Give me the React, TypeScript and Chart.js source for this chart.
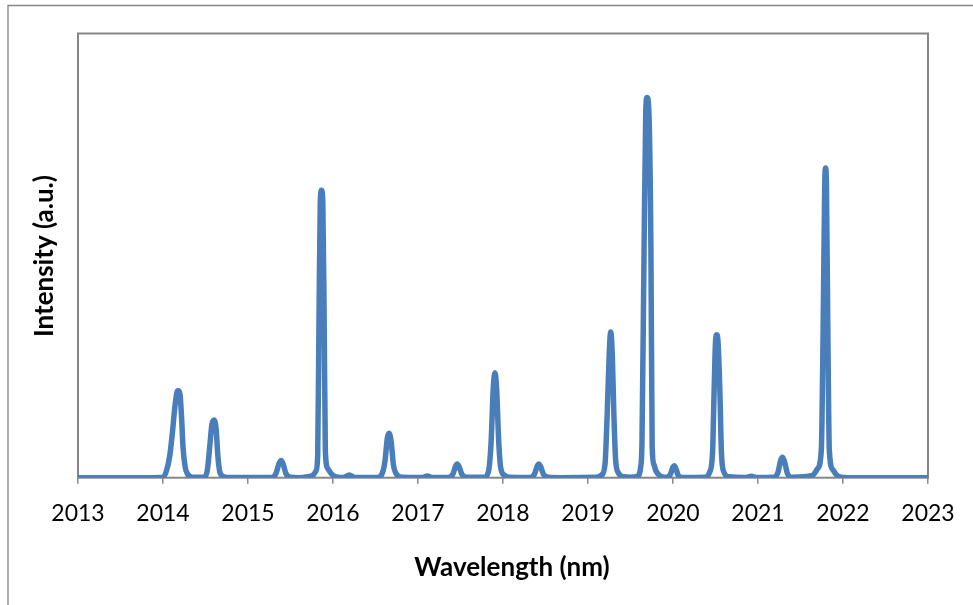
import React, { useEffect, useRef } from "react";
import { Chart, registerables } from "chart.js";

Chart.register(...registerables);

// Wavelength (nm) sample positions
const wavelengths: number[] = [
  2013.0, 2013.9,
  2014.0, 2014.04, 2014.08, 2014.11, 2014.14, 2014.165, 2014.18, 2014.2, 2014.22, 2014.235, 2014.26, 2014.29, 2014.35,
  2014.48, 2014.52, 2014.55, 2014.575, 2014.6, 2014.625, 2014.645, 2014.67, 2014.72, 2014.8,
  2015.28, 2015.33, 2015.365, 2015.39, 2015.415, 2015.445, 2015.5, 2015.6,
  2015.7, 2015.76, 2015.8, 2015.82, 2015.835, 2015.85, 2015.865, 2015.88, 2015.895, 2015.91, 2015.94, 2016.0, 2016.06,
  2016.12, 2016.19, 2016.26,
  2016.52, 2016.57, 2016.61, 2016.64, 2016.66, 2016.685, 2016.71, 2016.75, 2016.82,
  2017.05, 2017.11, 2017.17,
  2017.36, 2017.41, 2017.44, 2017.46, 2017.485, 2017.515, 2017.57,
  2017.78, 2017.83, 2017.86, 2017.885, 2017.905, 2017.925, 2017.95, 2017.975, 2018.02, 2018.08,
  2018.32, 2018.37, 2018.4, 2018.42, 2018.445, 2018.475, 2018.53, 2018.7,
  2019.1, 2019.16, 2019.2, 2019.225, 2019.25, 2019.267, 2019.285, 2019.305, 2019.325, 2019.36, 2019.42, 2019.5,
  2019.58, 2019.62, 2019.635, 2019.66, 2019.68, 2019.695, 2019.715, 2019.74, 2019.755, 2019.775, 2019.8, 2019.85, 2019.9,
  2019.93, 2019.97, 2020.0, 2020.015, 2020.035, 2020.06, 2020.11,
  2020.38, 2020.43, 2020.465, 2020.485, 2020.5, 2020.515, 2020.53, 2020.55, 2020.57, 2020.6, 2020.66,
  2020.86, 2020.92, 2020.98,
  2021.19, 2021.235, 2021.265, 2021.29, 2021.315, 2021.345, 2021.4,
  2021.64, 2021.7, 2021.745, 2021.768, 2021.785, 2021.795, 2021.805, 2021.82, 2021.839, 2021.88, 2021.93, 2021.98, 2022.05,
  2023.0,
];

// Intensity (a.u.) at each wavelength
const intensity: number[] = [
  0, 0,
  0.1, 1.5, 5, 10, 16, 19.3, 19.6, 18.8, 13, 7, 2.5, 0.8, 0.1,
  0.1, 1.5, 7, 12, 13.0, 11, 5, 1.2, 0.2, 0.05,
  0.05, 1.0, 3.2, 3.9, 3.0, 1.0, 0.1, 0,
  0.2, 0.5, 1.5, 5, 35, 62, 64.7, 62, 38, 6, 2, 0.5, 0.1,
  0.05, 0.6, 0.05,
  0.05, 0.6, 3.5, 9, 10, 8, 3, 0.7, 0.1,
  0.05, 0.4, 0.05,
  0.05, 0.8, 2.5, 3.1, 2.4, 0.8, 0.1,
  0.1, 1.5, 8, 20, 23.6, 20, 8, 2, 0.5, 0.1,
  0.05, 0.8, 2.5, 3.1, 2.4, 0.8, 0.1, 0,
  0.1, 0.6, 3, 14, 28, 32.8, 28, 14, 4, 1, 0.2, 0.1,
  0.3, 2.5, 8, 52, 83, 85.6, 83, 52, 7, 3, 1.5, 0.4, 0.1,
  0.1, 0.8, 2.4, 2.7, 2, 0.6, 0.05,
  0.1, 1.2, 5.6, 20.5, 30.5, 32.2, 30.5, 20.5, 5.6, 1.2, 0.2,
  0.05, 0.3, 0.05,
  0.1, 1.2, 3.8, 4.6, 3.4, 1, 0.1,
  0.5, 2, 6.3, 36.4, 66, 69.7, 66, 36.4, 6.3, 1.8, 0.5, 0.1, 0,
  0,
];

const xTickValues: number[] = [2013, 2014, 2015, 2016, 2017, 2018, 2019, 2020, 2021, 2022, 2023];

const xTitle = "Wavelength (nm)";
const yTitle = "Intensity (a.u.)";

const GRAY = "#868686";

const framePlugin = {
  id: "excelFrame",
  beforeDraw(chart: any) {
    const ctx = chart.ctx;
    ctx.save();
    ctx.strokeStyle = GRAY;
    ctx.lineWidth = 1.3;
    ctx.beginPath();
    ctx.moveTo(8, 605);
    ctx.lineTo(8, 5.5);
    ctx.lineTo(973, 5.5);
    ctx.stroke();
    ctx.restore();
  },
  beforeDatasetsDraw(chart: any) {
    const { ctx, chartArea } = chart;
    ctx.save();
    ctx.strokeStyle = GRAY;
    ctx.lineWidth = 2;
    ctx.strokeRect(chartArea.left, chartArea.top, chartArea.right - chartArea.left, chartArea.bottom - chartArea.top);
    ctx.restore();
  },
  afterDraw(chart: any) {
    const ctx = chart.ctx;
    ctx.save();
    ctx.fillStyle = "#000";
    ctx.font = "bold 26px Lato";
    ctx.textAlign = "center";
    ctx.textBaseline = "middle";
    ctx.fillText(xTitle, 512, 568);
    ctx.translate(45, 256);
    ctx.rotate(-Math.PI / 2);
    ctx.fillText(yTitle, 0, 0);
    ctx.restore();
  },
};

export default function App() {
  const ref = useRef<HTMLCanvasElement | null>(null);

  useEffect(() => {
    if (!ref.current) return;
    const points = wavelengths.map((w, i) => ({ x: w, y: intensity[i] }));
    const chart = new Chart(ref.current, {
      type: "line",
      data: {
        datasets: [
          {
            data: points,
            borderColor: "#4a7ebb",
            backgroundColor: "#4a7ebb",
            borderWidth: 5.5,
            pointRadius: 0,
            cubicInterpolationMode: "monotone",
            borderJoinStyle: "round",
            borderCapStyle: "butt",
          },
        ],
      },
      options: {
        responsive: false,
        animation: false,
        layout: { padding: { left: 0, top: 33.5, right: 45, bottom: 0 } },
        plugins: {
          legend: { display: false },
          tooltip: { enabled: false },
          title: { display: false },
        },
        scales: {
          x: {
            type: "linear",
            min: 2013,
            max: 2023,
            afterBuildTicks: (scale: any) => {
              scale.ticks = xTickValues.map((v) => ({ value: v }));
            },
            afterFit: (scale: any) => {
              scale.height = 127.3;
            },
            ticks: {
              callback: (v: any) => String(v),
              color: "#000",
              font: { family: "Lato", size: 23 },
              padding: 16,
              maxRotation: 0,
              autoSkip: false,
            },
            grid: {
              display: true,
              drawOnChartArea: false,
              drawTicks: true,
              tickLength: 6,
              color: GRAY,
              lineWidth: 1.5,
            },
            border: { display: false },
          },
          y: {
            min: 0,
            max: 100,
            afterFit: (scale: any) => {
              scale.width = 78;
            },
            ticks: { display: false },
            grid: { display: false },
            border: { display: false },
          },
        },
      },
      plugins: [framePlugin],
    } as any);
    return () => chart.destroy();
  }, []);

  return (
    <div style={{ position: "fixed", left: 0, top: 0, width: 973, height: 605, overflow: "hidden", background: "#fff" }}>
      <canvas ref={ref} width={973} height={605} style={{ width: 973, height: 605, display: "block" }} />
    </div>
  );
}
